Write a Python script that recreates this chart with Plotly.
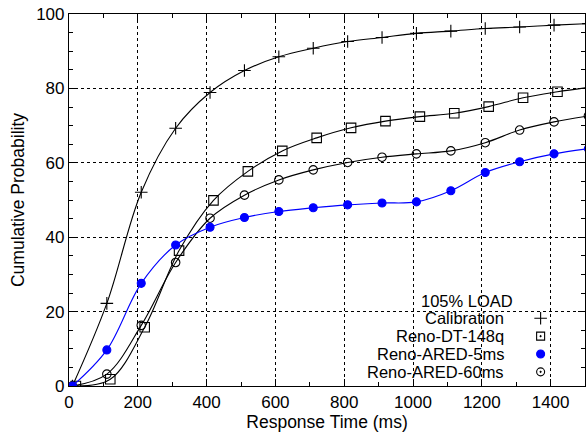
import plotly.graph_objects as go

# ---- data ----
x_main = [10, 110, 210, 310, 410, 510, 610, 710, 810, 910, 1010, 1110, 1210, 1310, 1410, 1510]
x_dt = [20, 120, 220, 320, 420, 520, 620, 720, 820, 920, 1020, 1120, 1220, 1320, 1420, 1520]

calibration = [0, 22.2, 52.1, 69.3, 78.9, 84.8, 88.5, 90.8, 92.6, 93.7, 94.8, 95.4, 96.1, 96.5, 97.0, 97.4]
reno_dt_148q = [0, 1.8, 15.8, 36.4, 49.9, 57.7, 63.2, 66.7, 69.4, 71.2, 72.4, 73.3, 75.1, 77.5, 79.1, 80.4]
reno_ared_5ms = [0, 9.7, 27.6, 37.9, 42.7, 45.3, 46.9, 47.9, 48.7, 49.2, 49.5, 52.5, 57.4, 60.3, 62.4, 63.8]
reno_ared_60ms = [0, 3.2, 16.3, 33.2, 45.1, 51.3, 55.4, 58.1, 60.1, 61.5, 62.4, 63.2, 65.4, 68.8, 71.0, 72.6]

series_names = ["Calibration", "Reno-DT-148q", "Reno-ARED-5ms", "Reno-ARED-60ms"]
legend_title = "105% LOAD"

x_ticks = [0, 200, 400, 600, 800, 1000, 1200, 1400]
y_ticks = [0, 20, 40, 60, 80, 100]

FONT = "Liberation Sans, Arial, sans-serif"
BLUE = "#0000ff"

fig = go.Figure()

def add_series(x, y, symbol, color, size):
    fig.add_trace(go.Scatter(
        x=x, y=y, mode="lines+markers",
        line=dict(color=color, width=1.1, shape="spline", smoothing=1.0),
        marker=dict(symbol=symbol, size=size, color=color,
                    line=dict(color=color, width=1.1)),
        showlegend=False,
    ))

add_series(x_main, calibration, "cross-thin", "black", 9)
add_series(x_dt, reno_dt_148q, "square-open", "black", 9.5)
add_series(x_main, reno_ared_60ms, "circle-open", "black", 8.5)
add_series(x_main, reno_ared_5ms, "circle", BLUE, 8)

# ---- custom gnuplot-like key (text right-aligned, symbol on the right) ----
key_symbols = ["cross-thin", "square-open-dot", "circle", "circle-open-dot"]
key_colors = ["black", "black", BLUE, "black"]
key_sizes = [9, 8, 8, 8]
key_top = 0.182
key_step = 0.048
key_text_x = 0.845
key_sym_x = 0.914
KEY_FONT = 16.5
for i, name in enumerate(series_names):
    yy = key_top - i * key_step
    fig.add_trace(go.Scatter(
        x=[key_sym_x], y=[yy], xaxis="x2", yaxis="y2", mode="markers",
        marker=dict(symbol=key_symbols[i], size=key_sizes[i], color=key_colors[i],
                    line=dict(color=key_colors[i], width=1.1)),
        showlegend=False, hoverinfo="skip",
    ))
    fig.add_annotation(xref="paper", yref="paper", x=key_text_x, y=yy,
                       text=name, showarrow=False, xanchor="right", yanchor="middle",
                       borderpad=0, font=dict(family=FONT, size=KEY_FONT, color="black"))
fig.add_annotation(xref="paper", yref="paper", x=0.863, y=0.229,
                   text=legend_title, showarrow=False, xanchor="right", yanchor="middle",
                   borderpad=0, font=dict(family=FONT, size=KEY_FONT, color="black"))

# white key box covering the grid
fig.add_shape(type="rect", xref="paper", yref="paper", x0=0.557, x1=1.0, y0=0.0, y1=0.258,
              fillcolor="white", line=dict(width=0), layer="between")

axis_common = dict(
    showline=True, linecolor="black", linewidth=1.2, mirror="allticks",
    ticks="inside", tickcolor="black", ticklen=7, tickwidth=1,
    showgrid=True, gridcolor="black", gridwidth=1, griddash="dot",
    zeroline=False, automargin=False,
    tickfont=dict(family=FONT, size=17, color="black"),
)

fig.update_layout(
    width=586, height=440,
    margin=dict(l=69, r=1, t=14, b=54),
    paper_bgcolor="white", plot_bgcolor="white",
    font=dict(family=FONT, size=17, color="black"),
    xaxis=dict(range=[0, 1500], tickvals=x_ticks,
               minor=dict(ticks="inside", dtick=100, ticklen=4, tickcolor="black", showgrid=False),
               title=dict(text="Response Time (ms)", font=dict(family=FONT, size=17.5), standoff=4),
               **axis_common),
    yaxis=dict(range=[0, 100], tickvals=y_ticks,
               minor=dict(ticks="inside", dtick=5, ticklen=4, tickcolor="black", showgrid=False),
               title=dict(text="Cumulative Probability", font=dict(family=FONT, size=17.5), standoff=7),
               **axis_common),
    xaxis2=dict(overlaying="x", range=[0, 1], visible=False, fixedrange=True),
    yaxis2=dict(overlaying="y", range=[0, 1], visible=False, fixedrange=True),
)

fig.write_html("out.html", config={"displayModeBar": False},
               post_script="document.body.style.margin='0px';")
